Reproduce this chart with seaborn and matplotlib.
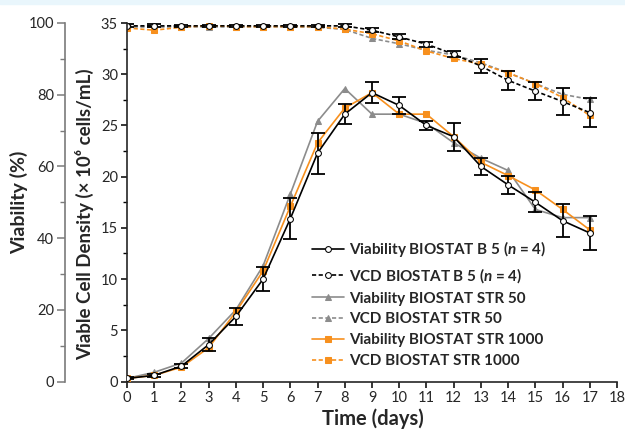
import matplotlib
matplotlib.use("Agg")
import matplotlib.pyplot as plt
from matplotlib.patches import Rectangle
from matplotlib.ticker import MultipleLocator
import numpy as np
import seaborn as sb

DAYS = list(range(0, 18))

# solid curves (read on the inner 0-35 axis)
VIAB_B5 = [0.3, 0.6, 1.5, 3.6, 6.35, 10.0, 15.9, 22.3, 26.1, 28.2, 26.95, 25.0, 23.9, 21.0, 19.2, 17.5, 15.7, 14.5]
VIAB_B5_ERR = [0.1, 0.15, 0.2, 0.6, 0.8, 1.15, 2.0, 2.0, 1.0, 1.0, 0.85, 0.45, 1.35, 0.85, 0.9, 1.0, 1.6, 1.65]
VIAB_STR50 = [0.3, 0.9, 1.8, 4.2, 7.0, 11.3, 18.3, 25.4, 28.6, 26.1, 26.1, 25.2, 23.3, 21.8, 20.6, 16.8, 16.0, 16.0]
VIAB_STR1000 = [0.3, 0.6, 1.4, 3.3, 6.8, 10.8, 17.1, 23.3, 26.7, 28.2, 26.1, 26.1, 23.9, 21.4, 20.1, 18.7, 16.8, 14.8]

# dashed curves (read on the outer 0-100 axis)
VCD_B5 = [99.2, 99.2, 99.2, 99.2, 99.2, 99.2, 99.2, 99.2, 99.2, 98.0, 96.1, 94.1, 91.3, 88.0, 84.0, 81.0, 78.1, 75.0]
VCD_B5_ERR = [0.4, 0.4, 0.3, 0.3, 0.3, 0.3, 0.3, 0.3, 0.4, 0.5, 0.7, 0.7, 0.8, 1.9, 2.6, 2.6, 3.9, 4.1]
VCD_STR50 = [98.9, 98.9, 98.9, 98.9, 98.9, 98.9, 98.9, 98.8, 98.2, 95.7, 94.2, 92.4, 91.1, 88.9, 86.1, 83.1, 80.1, 78.7]
VCD_STR1000 = [98.6, 98.0, 98.8, 99.3, 99.0, 99.0, 99.0, 99.0, 98.3, 97.0, 95.0, 92.2, 90.1, 88.5, 86.1, 83.1, 79.2, 74.2]

LABELS = [
    "Viability BIOSTAT B 5 ($\\it{n}$ = 4)",
    "VCD BIOSTAT B 5 ($\\it{n}$ = 4)",
    "Viability BIOSTAT STR 50",
    "VCD BIOSTAT STR 50",
    "Viability BIOSTAT STR 1000",
    "VCD BIOSTAT STR 1000",
]

BLACK = "#000000"
GREY = "#8c8c8c"
ORANGE = "#f7901e"
AXGREY = "#7a7a7a"
FONT = ["Lato", "DejaVu Sans"]

sb.set_style("ticks")
plt.rcParams["font.family"] = FONT
plt.rcParams["mathtext.fontset"] = "custom"
plt.rcParams["mathtext.it"] = "Lato:italic:bold"
plt.rcParams["mathtext.rm"] = "Lato:bold"

fig = plt.figure(figsize=(6.25, 4.3), dpi=100)
fig.patches.append(Rectangle((0, 1 - 4 / 430), 1, 4 / 430, transform=fig.transFigure,
                             color="#e9f6fc", zorder=0))

ax = fig.add_axes([127 / 625, 1 - 381.5 / 430, 490 / 625, 358.5 / 430])
ax2 = ax.twinx()
ax.set_zorder(2)
ax2.set_zorder(1)
ax.patch.set_visible(False)

styles = [
    (VIAB_STR50, GREY, "^", GREY, 4.5, LABELS[2]),
    (VIAB_STR1000, ORANGE, "s", ORANGE, 3.8, LABELS[4]),
    (VIAB_B5, BLACK, "o", "white", 4.2, LABELS[0]),
]
for i, (vals, col, mk, face, ms, lab) in enumerate(styles):
    sb.lineplot(x=DAYS, y=vals, ax=ax, color=col, marker=mk, markerfacecolor=face,
                markeredgecolor=col, markersize=ms, linewidth=1.2, label=lab,
                zorder=3 + i, legend=False)
ax.errorbar(DAYS, VIAB_B5, yerr=VIAB_B5_ERR, fmt="none", ecolor=BLACK, elinewidth=1.3,
            capsize=5, capthick=1.3, zorder=4.5)

dstyles = [
    (VCD_STR50, GREY, "^", GREY, 4.5, LABELS[3]),
    (VCD_STR1000, ORANGE, "s", ORANGE, 3.8, LABELS[5]),
    (VCD_B5, BLACK, "o", "white", 4.2, LABELS[1]),
]
for i, (vals, col, mk, face, ms, lab) in enumerate(dstyles):
    sb.lineplot(x=DAYS, y=vals, ax=ax2, color=col, marker=mk, markerfacecolor=face,
                markeredgecolor=col, markersize=ms, linewidth=1.2, linestyle=(0, (2.5, 1.5)),
                label=lab, zorder=3 + i, legend=False)
ax2.errorbar(DAYS, VCD_B5, yerr=VCD_B5_ERR, fmt="none", ecolor=BLACK, elinewidth=1.3,
             capsize=5, capthick=1.3, zorder=4.5)

# axes limits and ticks
ax.set_xlim(0, 18)
ax.set_ylim(0, 35)
ax2.set_ylim(0, 100)
ax.xaxis.set_major_locator(MultipleLocator(1))
ax.yaxis.set_major_locator(MultipleLocator(5))
ax.yaxis.set_minor_locator(MultipleLocator(2.5))
ax2.yaxis.set_major_locator(MultipleLocator(20))
ax2.yaxis.set_minor_locator(MultipleLocator(10))

for sp in ["top", "right"]:
    ax.spines[sp].set_visible(False)
for sp in ["top", "right", "bottom"]:
    ax2.spines[sp].set_visible(False)
ax.spines["left"].set_linewidth(1.2)
ax.spines["bottom"].set_linewidth(1.2)
ax2.yaxis.set_ticks_position("left")
ax2.yaxis.set_label_position("left")
ax2.spines["left"].set_visible(True)
ax2.spines["left"].set_position(("outward", 45))
ax2.spines["left"].set_color(AXGREY)
ax2.spines["left"].set_linewidth(1.2)

ax.tick_params(axis="both", which="major", length=4.5, width=1.1, labelsize=10.5, pad=2, color=BLACK)
ax.tick_params(axis="y", which="minor", length=3, width=1.0, color=BLACK)
ax2.tick_params(axis="y", which="major", length=5.5, width=1.1, labelsize=10.5, pad=2, color=AXGREY)
ax2.tick_params(axis="y", which="minor", length=3.5, width=1.0, color=AXGREY)

fig.text(19 / 625, 1 - 202 / 430, "Viability (%)", rotation=90, ha="center", va="center",
         fontsize=14, fontweight="bold")
fig.text(85 / 625, 1 - 214 / 430, "Viable Cell Density (× 10⁶ cells/mL)", rotation=90,
         ha="center", va="center", fontsize=13.5, fontweight="bold")
fig.text(373 / 625, 1 - 419 / 430, "Time (days)", ha="center", va="center",
         fontsize=14.5, fontweight="bold")

# legend in the reference's order
h1, l1 = ax.get_legend_handles_labels()
h2, l2 = ax2.get_legend_handles_labels()
lookup = dict(zip(l1 + l2, h1 + h2))
leg = ax2.legend([lookup[l] for l in LABELS], LABELS, loc="upper left",
                 bbox_to_anchor=(312 / 625, 1 - 239 / 430), bbox_transform=fig.transFigure,
                 frameon=False, borderpad=0, borderaxespad=0, handlelength=2.1,
                 handletextpad=0.3, labelspacing=0.45, prop={"weight": "bold", "size": 11})

fig.savefig("out.png", dpi=100)
